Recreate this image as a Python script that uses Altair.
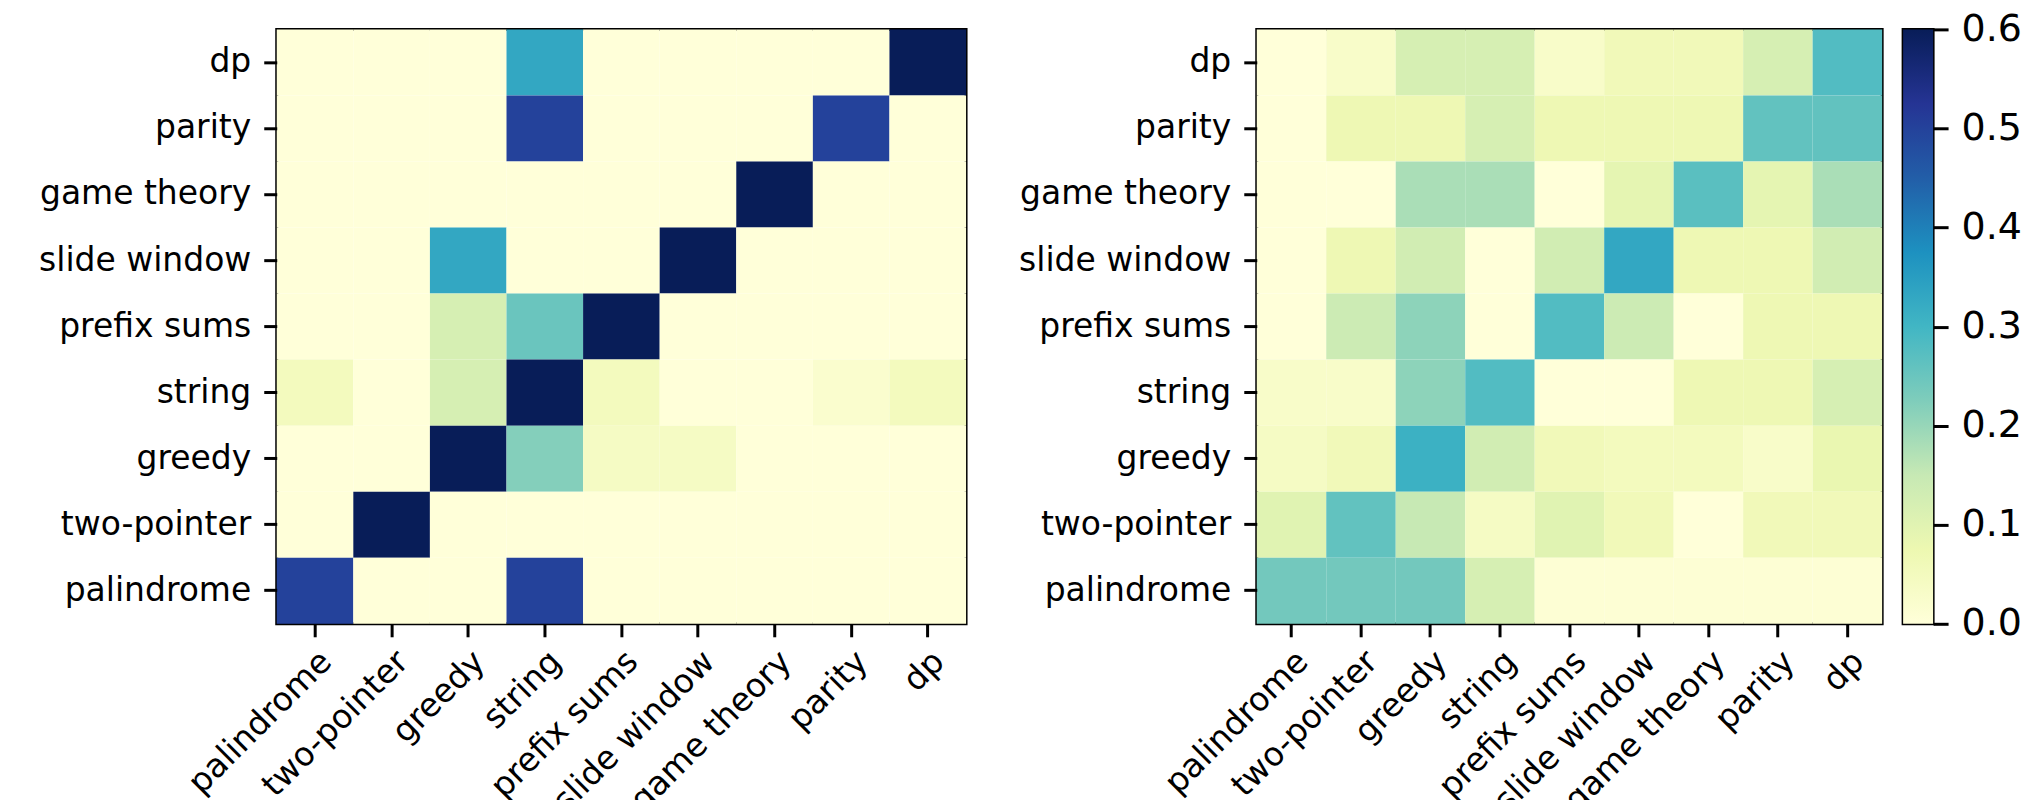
import altair as alt
import pandas as pd

# ---- data ----
categories = ["palindrome", "two-pointer", "greedy", "string", "prefix sums",
              "slide window", "game theory", "parity", "dp"]
row_order = ["dp", "parity", "game theory", "slide window", "prefix sums",
             "string", "greedy", "two-pointer", "palindrome"]

# rows follow row_order (top to bottom), columns follow categories
left_values = [
    [0.00, 0.00, 0.00, 0.33, 0.00, 0.00, 0.00, 0.00, 0.67],  # dp
    [0.00, 0.00, 0.00, 0.50, 0.00, 0.00, 0.00, 0.50, 0.00],  # parity
    [0.00, 0.00, 0.00, 0.00, 0.00, 0.00, 1.00, 0.00, 0.00],  # game theory
    [0.00, 0.00, 0.33, 0.00, 0.00, 0.67, 0.00, 0.00, 0.00],  # slide window
    [0.00, 0.00, 0.12, 0.25, 0.63, 0.00, 0.00, 0.00, 0.00],  # prefix sums
    [0.05, 0.00, 0.12, 0.71, 0.05, 0.00, 0.00, 0.02, 0.05],  # string
    [0.00, 0.00, 0.70, 0.22, 0.04, 0.04, 0.00, 0.00, 0.00],  # greedy
    [0.00, 1.00, 0.00, 0.00, 0.00, 0.00, 0.00, 0.00, 0.00],  # two-pointer
    [0.50, 0.00, 0.00, 0.50, 0.00, 0.00, 0.00, 0.00, 0.00],  # palindrome
]
right_values = [
    [0.00, 0.03, 0.12, 0.12, 0.03, 0.06, 0.06, 0.12, 0.28],  # dp
    [0.00, 0.07, 0.07, 0.12, 0.07, 0.07, 0.07, 0.26, 0.26],  # parity
    [0.00, 0.00, 0.18, 0.18, 0.00, 0.09, 0.27, 0.09, 0.18],  # game theory
    [0.00, 0.07, 0.13, 0.00, 0.13, 0.33, 0.07, 0.07, 0.13],  # slide window
    [0.00, 0.14, 0.21, 0.00, 0.28, 0.14, 0.00, 0.07, 0.07],  # prefix sums
    [0.03, 0.03, 0.21, 0.28, 0.00, 0.00, 0.07, 0.07, 0.12],  # string
    [0.04, 0.06, 0.31, 0.13, 0.06, 0.05, 0.05, 0.03, 0.08],  # greedy
    [0.10, 0.26, 0.15, 0.04, 0.10, 0.06, 0.00, 0.06, 0.06],  # two-pointer
    [0.24, 0.24, 0.24, 0.12, 0.01, 0.01, 0.01, 0.01, 0.01],  # palindrome
]
cbar_ticks = [0.0, 0.1, 0.2, 0.3, 0.4, 0.5, 0.6]
cbar_range = [0.0, 0.6]

# matplotlib YlGnBu anchor colours (styling)
ylgnbu = ["#ffffd9", "#edf8b1", "#c7e9b4", "#7fcdbb", "#41b6c4",
          "#1d91c0", "#225ea8", "#253494", "#081d58"]
n = len(ylgnbu) - 1
color_domain = [cbar_range[0] + (cbar_range[1] - cbar_range[0]) * i / n for i in range(n + 1)]


def to_long(mat):
    recs = []
    for r, row in zip(row_order, mat):
        for c, v in zip(categories, row):
            recs.append({"row": r, "col": c, "value": v})
    return pd.DataFrame(recs)


color_scale = alt.Scale(domain=color_domain, range=ylgnbu, type="linear",
                        clamp=True, interpolate="rgb")

PLOT_H = 595


def heatmap(df, w):
    return alt.Chart(df).mark_rect(strokeWidth=0).encode(
        x=alt.X("col:N", sort=categories, title=None,
                axis=alt.Axis(labelAngle=-45, labelAlign="right", labelBaseline="top",
                              labelPadding=8)),
        y=alt.Y("row:N", sort=row_order, title=None),
        color=alt.Color("value:Q", scale=color_scale, legend=None),
    ).properties(width=w, height=PLOT_H)


left = heatmap(to_long(left_values), 690)
right = heatmap(to_long(right_values), 626)

cbar_df = pd.DataFrame({"lo": [cbar_range[0]], "hi": [cbar_range[1]]})
gradient = alt.LinearGradient(
    gradient="linear",
    stops=[alt.GradientStop(color=c, offset=i / n) for i, c in enumerate(ylgnbu)],
    x1=0, x2=0, y1=1, y2=0,
)
cbar = alt.Chart(cbar_df).mark_rect(color=gradient, strokeWidth=0).encode(
    x=alt.value(0), x2=alt.value(30),
    y=alt.Y("lo:Q", scale=alt.Scale(domain=cbar_range, nice=False, zero=False),
            axis=alt.Axis(orient="right", values=cbar_ticks, format=".1f",
                          labelFontSize=38, tickSize=15, labelPadding=13, title=None)),
    y2="hi:Q",
).properties(width=30, height=PLOT_H)

right_block = alt.hconcat(right, cbar, spacing=21, bounds="flush")

chart = alt.hconcat(left, right_block, spacing=291, bounds="flush").properties(
    padding={"left": 29, "top": 0, "right": 0, "bottom": 0},
    background="white",
).configure_axis(
    labelFont="DejaVu Sans", labelFontSize=33, labelColor="black",
    tickColor="black", tickWidth=3, tickSize=13, labelPadding=13,
    domain=False, grid=False, labelLimit=500, labelOverlap=False,
).configure_view(
    stroke="black", strokeWidth=3,
)

chart.save("out.html", embed_options={"renderer": "svg", "actions": False})
